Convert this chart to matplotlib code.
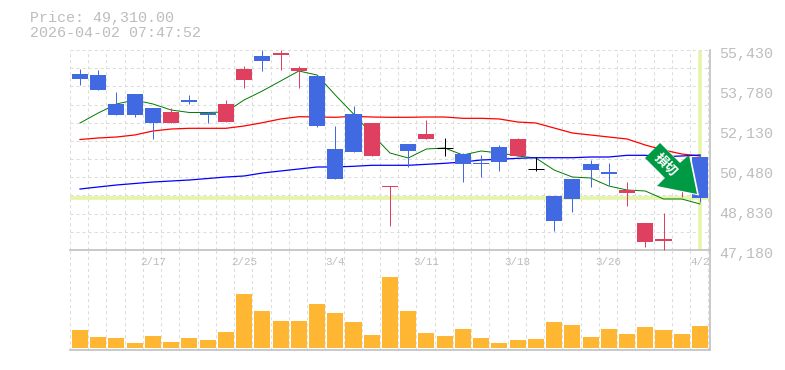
"""Stock chart card: candles with moving averages, volume bars below."""

import numpy as np
import matplotlib.pyplot as plt
from matplotlib.patches import Polygon
from matplotlib.transforms import Affine2D


WIDTH, HEIGHT = 785, 370
TEXT_COLOR = "#bdbdbd"
GRID_COLOR = "#dcdcdc"
FRAME_COLOR = "#c0c0c0"
HILITE = "#e4f4a8"
UP = "#e0405f"
DOWN = "#4169e1"
MONO = ["Liberation Mono", "DejaVu Sans Mono"]

LAST_PRICE = 49310
PRICE_TICKS = [55430, 53780, 52130, 50480, 48830, 47180]
DATE_POS = [4, 9, 14, 19, 24, 29, 34]
DATE_LABELS = ["2/17", "2/25", "3/4", "3/11", "3/18", "3/26", "4/2"]

OPENS = [54440, 54399, 53203, 53615, 53037, 52419, 53368, 52831, 52460, 54193,
         55183, 55224, 54564, 54358, 51346, 52790, 51058, 49779, 51553, 51759,
         51408, 51140, 50769, 51429, 51058, 50501, 49408, 50109, 50728, 50398,
         49531, 47510, 47551, 50080, 51016]
CLOSES = [54234, 53780, 52749, 52749, 52419, 52872, 53285, 52749, 53203, 54646,
          54976, 55306, 54688, 52295, 50109, 51223, 52419, 49820, 51264, 51965,
          51408, 50728, 50728, 50810, 51759, 50501, 48376, 49284, 50480, 50315,
          49655, 48294, 47634, 50398, 49310]
HIGHS = [54646, 54605, 53697, 53615, 53037, 53037, 53574, 52872, 53368, 54770,
         55430, 55430, 54770, 54358, 52295, 53120, 52419, 49820, 51553, 52543,
         51800, 51181, 51099, 51511, 51800, 51016, 49408, 50109, 50893, 50769,
         49985, 48294, 48706, 50562, 51140]
LOWS = [53986, 53780, 52749, 52666, 51759, 52419, 53203, 52419, 52460, 53863,
        54564, 54605, 53863, 52254, 50109, 51223, 51058, 48170, 50604, 51759,
        51058, 49985, 50191, 50439, 51058, 50439, 47964, 48748, 49779, 49861,
        48995, 47304, 47180, 49366, 49160]

MA_SHORT = [52419, 52831, 53203, 53368, 53203, 52955, 52852, 52852, 52872, 53368,
            53739, 54151, 54564, 54399, 53574, 52790, 51965, 51181, 50975, 51346,
            51388, 51099, 51264, 51181, 51058, 50975, 50480, 50191, 50150, 49820,
            49655, 49614, 49284, 49284, 49078]
MA_MID = [51738, 51800, 51841, 51924, 52089, 52171, 52200, 52200, 52200, 52295,
          52431, 52584, 52679, 52666, 52654, 52695, 52666, 52654, 52654, 52666,
          52666, 52612, 52612, 52584, 52460, 52419, 52213, 52006, 51924, 51841,
          51759, 51511, 51305, 51140, 51058]
MA_LONG = [49696, 49779, 49861, 49923, 49985, 50026, 50068, 50129, 50191, 50233,
           50356, 50439, 50521, 50604, 50604, 50633, 50674, 50674, 50674, 50715,
           50756, 50810, 50893, 50921, 50962, 50987, 50987, 50987, 51016, 51016,
           51086, 51086, 51029, 51058, 51099]

VOLUMES = [18, 11, 10, 5, 12, 6, 10, 8, 16, 54, 37, 27, 27, 44, 35, 26, 13, 71,
           37, 15, 12, 19, 10, 5, 8, 9, 26, 23, 11, 19, 14, 21, 18, 14, 22]

# sticker on top of the plot, in pixels from the top left of the image
ARROW_PX = [(660, 143), (680, 163), (689, 155), (697, 194), (657, 186), (665, 178), (645, 158)]


def style_axes(ax) -> None:
    ax.set_xlim(-0.548, 34.55)
    ax.set_xticks(np.arange(-0.548, 34.6, 1.0))
    ax.tick_params(axis="both", which="both", length=0, labelbottom=False, labelleft=False)
    ax.grid(True, axis="x", color=GRID_COLOR, lw=0.75, ls=(0, (2.9, 2.9)))
    ax.set_axisbelow(True)
    ax.patch.set_alpha(0)
    for name, spine in ax.spines.items():
        spine.set_visible(name in ("bottom", "right"))
        spine.set_color(FRAME_COLOR)
        spine.set_linewidth(1.2)


def plot() -> None:
    fig = plt.figure(figsize=(WIDTH / 100, HEIGHT / 100), dpi=100)
    ax = fig.add_axes([70 / WIDTH, 1 - 250 / HEIGHT, 640 / WIDTH, 200 / HEIGHT])
    vol = fig.add_axes([70 / WIDTH, 1 - 350 / HEIGHT, 640 / WIDTH, 100 / HEIGHT])
    style_axes(ax)
    style_axes(vol)

    ax.set_ylim(47180, 55430)
    ax.set_yticks(np.arange(47180, 55431, 750))
    ax.grid(True, axis="y", color=GRID_COLOR, lw=0.75, ls=(0, (2.9, 2.9)))

    x = np.arange(len(OPENS))

    ax.axhline(LAST_PRICE, color=HILITE, lw=2.6, zorder=1.5)
    ax.vlines(x[-1], 47200, 55400, color=HILITE, lw=2.6, zorder=1.5)

    ax.plot(x, MA_SHORT, color="#007a00", lw=0.7, zorder=2)
    ax.plot(x, MA_MID, color="#ff0000", lw=0.9, zorder=2)
    ax.plot(x, MA_LONG, color="#0000ff", lw=0.9, zorder=2)

    for i in x:
        o, c = OPENS[i], CLOSES[i]
        color = "black" if o == c else (UP if c > o else DOWN)
        ax.vlines(i, LOWS[i], HIGHS[i], color=color, lw=0.72, zorder=3, clip_on=False)
        if o == c:
            ax.hlines(o, i - 0.44, i + 0.44, color=color, lw=0.72, zorder=3)
        else:
            ax.bar(i, abs(c - o), bottom=min(o, c), width=0.88, color=color, lw=0, zorder=3)

    for price in PRICE_TICKS:
        ax.annotate(f"{price:,}", xy=(1, price), xycoords=("axes fraction", "data"),
                    xytext=(9, -4), textcoords="offset pixels", ha="left", va="center",
                    family=MONO, fontsize=10.8, color=TEXT_COLOR, annotation_clip=False)

    vol.set_ylim(-2, 98)
    vol.set_yticks([])
    vol.bar(x, VOLUMES, width=0.88, color="#ffb733", lw=0, zorder=3)

    for pos, label in zip(DATE_POS, DATE_LABELS):
        vol.annotate(label, xy=(pos, 1), xycoords=("data", "axes fraction"),
                     xytext=(0, -12), textcoords="offset pixels", ha="center", va="center",
                     family=MONO, fontsize=7.8, color=TEXT_COLOR, zorder=4)

    fig.text(30 / WIDTH, 1 - 18 / HEIGHT, f"Price: {LAST_PRICE:,}.00", family=MONO,
             fontsize=10.8, color=TEXT_COLOR, va="center")
    fig.text(30 / WIDTH, 1 - 33 / HEIGHT, "2026-04-02 07:47:52", family=MONO,
             fontsize=10.8, color=TEXT_COLOR, va="center")

    to_px = Affine2D().scale(1, -1).translate(0, HEIGHT)
    # white rim shows only on the right and lower edges
    fig.add_artist(Polygon(ARROW_PX, closed=True, facecolor="white", edgecolor="none",
                           transform=Affine2D().translate(2, 1.5) + to_px, zorder=5))
    fig.add_artist(Polygon(ARROW_PX, closed=True, facecolor="#009944", edgecolor="none",
                           transform=to_px, zorder=6))
    fig.text(666 / WIDTH, 1 - 165 / HEIGHT, "損切", family=["Noto Sans CJK JP", "DejaVu Sans"],
             fontsize=9.5, fontweight="bold", color="white", rotation=-45,
             rotation_mode="anchor", ha="center", va="center", zorder=7)

    fig.savefig("out.png", dpi=100)
    plt.close(fig)


if __name__ == "__main__":
    plot()
